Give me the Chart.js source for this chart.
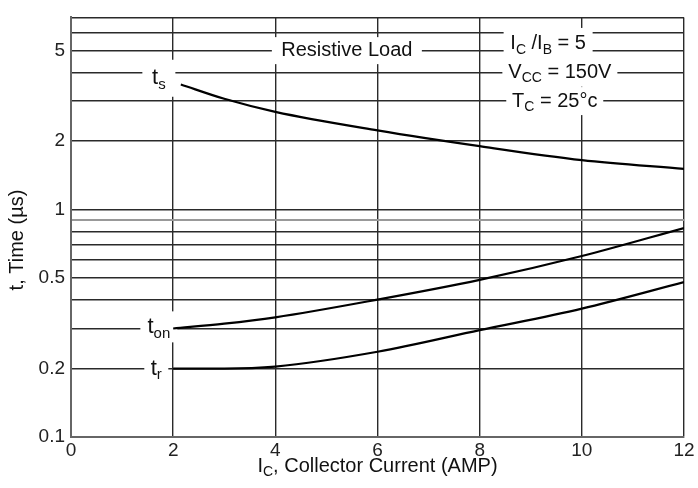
<!DOCTYPE html>
<html>
<head>
<meta charset="utf-8">
<script src="https://cdn.jsdelivr.net/npm/chart.js@4"></script>
<style>
  body { margin: 0; background: #fff; }
  #wrap { width: 698px; height: 488px; }
</style>
</head>
<body>
<div id="wrap"><canvas id="timeChart" width="698" height="488"></canvas></div>
<script>
// switching times vs collector current
const currentTs = [2.15, 3, 4, 6, 8, 10, 12];
const storageTime = [3.55, 3.07, 2.69, 2.23, 1.90, 1.65, 1.51];
const currentOn = [2, 3, 4, 6, 8, 10, 12];
const turnOnTime = [0.30, 0.315, 0.336, 0.402, 0.491, 0.625, 0.83];
const currentR = [2, 3, 4, 6, 8, 10, 12];
const riseTime = [0.20, 0.20, 0.204, 0.237, 0.295, 0.367, 0.48];

const xTicks = [0, 2, 4, 6, 8, 10, 12];
const yGrid = [0.1, 0.2, 0.3, 0.4, 0.5, 0.6, 0.7, 0.8, 0.9, 1, 2, 3, 4, 5, 6, 7];
const yLabels = [0.1, 0.2, 0.5, 1, 2, 5];

const FONT = '"Liberation Sans", Arial, sans-serif';

function toPoints(xs, ys) {
  return xs.map((x, i) => ({ x: x, y: ys[i] }));
}

// text with subscripts, parts = [[text, isSub], ...]
function drawRich(ctx, parts, cx, cy, size) {
  const big = size + 'px ' + FONT;
  const small = Math.round(size * 0.68) + 'px ' + FONT;
  let total = 0;
  parts.forEach(p => {
    ctx.font = p[1] ? small : big;
    total += ctx.measureText(p[0]).width;
  });
  let x = cx - total / 2;
  ctx.textAlign = 'left';
  ctx.textBaseline = 'middle';
  ctx.fillStyle = '#111';
  parts.forEach(p => {
    ctx.font = p[1] ? small : big;
    ctx.fillText(p[0], x, p[1] ? cy + size * 0.3 : cy);
    x += ctx.measureText(p[0]).width;
  });
  return total;
}

// labels sitting on the grid, with a white patch behind them
const notes = [
  { parts: [['Resistive Load', false]], x: 5.4, y: 5, size: 20, box: [150, 27] },
  { parts: [['I', false], ['C', true], [' /I', false], ['B', true], [' = 5', false]], x: 9.34, y: 5.35, size: 20, box: [89, 32] },
  { parts: [['V', false], ['CC', true], [' = 150V', false]], x: 9.57, y: 4.02, size: 20, box: [115, 29] },
  { parts: [['T', false], ['C', true], [' = 25°c', false]], x: 9.47, y: 3.0, size: 20, box: [97, 28] },
  { parts: [['t', false], ['s', true]], x: 1.72, y: 3.78, size: 22, box: [33, 37] },
  { parts: [['t', false], ['on', true]], x: 1.72, y: 0.305, size: 22, box: [37, 31] },
  { parts: [['t', false], ['r', true]], x: 1.67, y: 0.2, size: 22, box: [24, 26] }
];

const notesPlugin = {
  id: 'notes',
  beforeDatasetsDraw(chart) {
    const ctx = chart.ctx;
    const sx = chart.scales.x, sy = chart.scales.y;
    ctx.save();
    notes.forEach(n => {
      const cx = sx.getPixelForValue(n.x);
      const cy = sy.getPixelForValue(n.y);
      ctx.fillStyle = '#fff';
      ctx.fillRect(cx - n.box[0] / 2, cy - n.box[1] / 2, n.box[0], n.box[1]);
      drawRich(ctx, n.parts, cx, cy, n.size);
    });
    ctx.restore();
  },
  afterDraw(chart) {
    const ctx = chart.ctx;
    const area = chart.chartArea;
    ctx.save();
    drawRich(ctx, [['I', false], ['C', true], [', Collector Current (AMP)', false]],
      (area.left + area.right) / 2, 466, 20);
    ctx.translate(17, 240);
    ctx.rotate(-Math.PI / 2);
    drawRich(ctx, [['t, Time (µs)', false]], 0, 0, 20);
    ctx.restore();
  }
};

const lineStyle = {
  borderColor: '#000',
  borderWidth: 2.2,
  pointRadius: 0,
  fill: false,
  cubicInterpolationMode: 'monotone'
};

new Chart(document.getElementById('timeChart'), {
  type: 'line',
  data: {
    datasets: [
      Object.assign({ label: 'ts', data: toPoints(currentTs, storageTime) }, lineStyle),
      Object.assign({ label: 'ton', data: toPoints(currentOn, turnOnTime) }, lineStyle),
      Object.assign({ label: 'tr', data: toPoints(currentR, riseTime) }, lineStyle)
    ]
  },
  options: {
    responsive: false,
    animation: false,
    layout: { padding: { top: 13, right: 14, left: 0, bottom: 0 } },
    plugins: { legend: { display: false }, tooltip: { enabled: false } },
    scales: {
      x: {
        type: 'linear',
        min: 0,
        max: 12,
        afterBuildTicks: s => { s.ticks = xTicks.map(v => ({ value: v })); },
        afterFit: s => { s.height = 51; },
        grid: { color: '#2a2a2a', lineWidth: 1.4, drawTicks: false },
        border: { color: '#666', width: 2 },
        ticks: { padding: 2, color: '#222', font: { family: FONT, size: 19 } }
      },
      y: {
        type: 'logarithmic',
        min: 0.1,
        max: 7,
        afterBuildTicks: s => { s.ticks = yGrid.map(v => ({ value: v })); },
        afterFit: s => { s.width = 71; },
        grid: {
          color: c => (c.tick && c.tick.value === 0.9) ? '#999' : '#2a2a2a',
          lineWidth: c => (c.tick && c.tick.value === 0.9) ? 2 : 1.4,
          drawTicks: false
        },
        border: { color: '#666', width: 2 },
        ticks: {
          padding: 6,
          color: '#222',
          font: { family: FONT, size: 19 },
          autoSkip: false,
          callback: v => yLabels.includes(v) ? String(v) : ''
        }
      }
    }
  },
  plugins: [notesPlugin]
});
</script>
</body>
</html>
